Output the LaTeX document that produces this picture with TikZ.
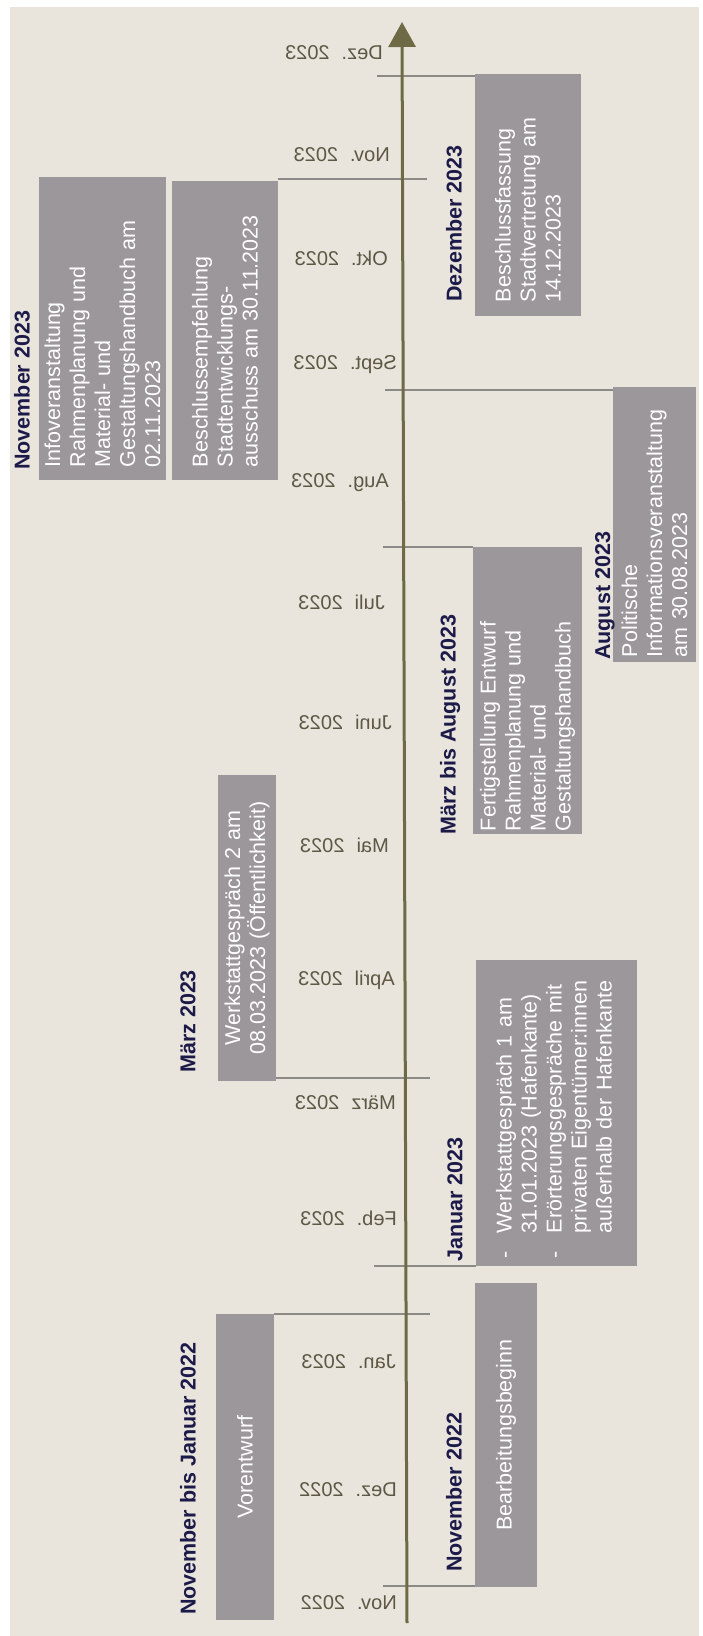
\documentclass[tikz,border=0pt]{standalone}
\usepackage{fontspec}
\setmainfont{Liberation Sans}
\usepackage{graphicx}
\usetikzlibrary{arrows.meta,positioning}
\definecolor{paper}{RGB}{233,229,221}
\definecolor{boxgray}{RGB}{156,151,155}
\definecolor{navy}{RGB}{28,26,72}
\definecolor{olive}{RGB}{110,106,70}
\definecolor{molabel}{RGB}{92,88,68}
\definecolor{tickgray}{RGB}{140,138,134}
\newcommand{\evfont}{\fontsize{21.5}{25}\selectfont}
\newcommand{\hdfont}{\fontsize{21.5}{25}\selectfont\bfseries}
\newcommand{\mofont}{\fontsize{20}{24}\selectfont}
\tikzset{%
   evbox/.style={rotate=90, fill=boxgray, text=white, font=\evfont, inner ysep=0pt, align=left},
   headline/.style={rotate=90, anchor=west, inner sep=0pt, text=navy, font=\hdfont},
   monthlbl/.style={anchor=east, inner sep=0pt, text=molabel, font=\mofont},
   tickline/.style={draw=tickgray, line width=2pt},
   timeaxis/.style={draw=olive, line width=3pt, -{Triangle[length=25pt,width=27pt]}},
}
\begin{document}
\begin{tikzpicture}[x=1pt, y=-1pt]
      \useasboundingbox (0,0) rectangle (702,1636);
      \fill[paper] (10,7) rectangle (699,1636);
      \node[evbox, align=center, inner xsep=8pt, text width=290pt, minimum height=58pt] (vorent) at (245,1467) {Vorentwurf};
      \node[evbox, align=center, inner xsep=8pt, text width=288pt, minimum height=62pt] (bearb) at (506,1435) {Bearbeitungsbeginn};
      \node[evbox, inner xsep=8pt, text width=290pt, minimum height=161pt] (werk1) at (556.5,1113) {\begin{tabular}{@{}p{25pt}@{}l@{}}
            -&Werkstattgespräch 1 am\\
            &31.01.2023 (Hafenkante)\\
            -&Erörterungsgespräche mit\\
            &privaten Eigentümer:innen\\
            &außerhalb der Hafenkante
         \end{tabular}};
      \node[evbox, align=center, inner xsep=8pt, text width=290pt, minimum height=58pt] (werk2) at (247,928) {Werkstattgespräch 2 am\\08.03.2023 (Öffentlichkeit)};
      \node[evbox, inner xsep=3pt, text width=281pt, minimum height=109pt] (fertig) at (527.5,690.5) {Fertigstellung Entwurf\\Rahmenplanung und\\Material- und\\Gestaltungshandbuch};
      \node[evbox, inner xsep=5pt, text width=265pt, minimum height=83pt] (politik) at (654.5,524.5) {Politische\\Informationsveranstaltung\\am 30.08.2023};
      \node[evbox, inner xsep=13pt, text width=277pt, minimum height=127pt] (info) at (102.5,328.5) {Infoveranstaltung\\Rahmenplanung und\\Material- und\\Gestaltungshandbuch am\\02.11.2023};
      \node[evbox, inner xsep=13pt, text width=273pt, minimum height=106pt] (empf) at (225,330.5) {Beschlussempfehlung\\Stadtentwicklungs-\\ausschuss am 30.11.2023};
      \node[evbox, inner xsep=14pt, text width=214pt, minimum height=106pt] (beschl) at (528,195) {Beschlussfassung\\Stadtvertretung am\\14.12.2023};
      \node[headline] (hNovJan) at (188,1615) {November bis Januar 2022};
      \node[headline] (hNov22) at (454,1572) {November 2022};
      \node[headline] (hJan23) at (455,1262) {Januar 2023};
      \node[headline] (hMar23) at (188,1073) {März 2023};
      \node[headline] (hMarAug) at (450,835) {März bis August 2023};
      \node[headline] (hAug23) at (605,660) {August 2023};
      \node[headline] (hNov23) at (22,470) {November 2023};
      \node[headline] (hDez23) at (454,302) {Dezember 2023};
      \coordinate (tNov22) at (383,1586);
      \coordinate (tJan23) at (430,1314);
      \coordinate (tFeb23) at (374,1266);
      \coordinate (tMar23) at (430,1078);
      \coordinate (tJul23) at (383,547);
      \coordinate (tSep23) at (385,390);
      \coordinate (tNov23) at (427,179);
      \coordinate (tDez23) at (377,76);
      \draw[tickline] (tNov22) -- (tNov22 -| bearb.north west);
      \draw[tickline] (tJan23) -- (tJan23 -| vorent.south east);
      \draw[tickline] (tFeb23) -- (tFeb23 -| werk1.north west);
      \draw[tickline] (tMar23) -- (tMar23 -| werk2.south west);
      \draw[tickline] (tJul23) -- (tJul23 -| fertig.north east);
      \draw[tickline] (tSep23) -- (tSep23 -| politik.north east);
      \draw[tickline] (tNov23) -- (tNov23 -| empf.south east);
      \draw[tickline] (tDez23) -- (tDez23 -| beschl.north east);
      \coordinate (axbot) at (407,1623);
      \coordinate (axtop) at (402,22);
      \draw[timeaxis] (axbot) -- (axtop);
      \foreach \xr/\yc/\mo/\yr [count=\i] in {397/1603/Nov./2022, 397/1490/Dez./2022, 396/1362/Jan./2023,
            397/1218/Feb./2023, 396/1103/März/2023, 395/980/April/2023, 389/845/Mai/2023, 392/722/Juni/2023,
            385/602/Juli/2023, 389/483/Aug./2023, 397/365/Sept./2023, 388/258/Okt./2023, 390/155/Nov./2023,
            383/53/Dez./2023}
         \node[monthlbl] (mon\i) at (\xr,\yc) {\reflectbox{\mo\hspace{.6em}\yr}};
   \end{tikzpicture}
\end{document}
